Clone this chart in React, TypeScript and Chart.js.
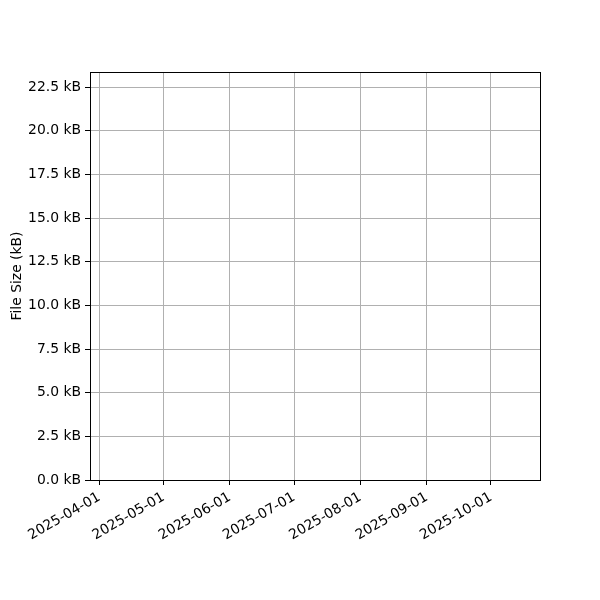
import { useEffect, useRef } from "react";
import { Chart, registerables } from "chart.js";

Chart.register(...registerables);

// x axis is in days from 2025-04-01 (no date adapter available)
const monthTicks = ["2025-04-01", "2025-05-01", "2025-06-01", "2025-07-01", "2025-08-01", "2025-09-01", "2025-10-01"];
const xRange = [-4.4, 205.9];
const yTicks = [0, 2.5, 5, 7.5, 10, 12.5, 15, 17.5, 20, 22.5];
const yRange = [0, 23.36];
// the reference plot has no visible points
const fileSizes: { x: number; y: number }[] = [];

const DAY = 86400000;
const origin = Date.parse(monthTicks[0]);
const toDay = (s: string) => (Date.parse(s) - origin) / DAY;
const dayLabel = (d: number) => new Date(origin + d * DAY).toISOString().slice(0, 10);

const FONT = { family: "'DejaVu Sans', sans-serif", size: 13.9 };

const frame = {
  id: "frame",
  afterDraw(chart: Chart) {
    const { ctx, chartArea: a } = chart;
    ctx.save();
    ctx.strokeStyle = "#000";
    ctx.lineWidth = 1;
    ctx.strokeRect(a.left + 0.5, a.top + 0.5, a.right - a.left, a.bottom - a.top);
    ctx.restore();
  },
};

export default function App() {
  const canvasRef = useRef<HTMLCanvasElement>(null);

  useEffect(() => {
    if (!canvasRef.current) return;
    const chart = new Chart(canvasRef.current, {
      type: "line",
      data: {
        datasets: [{ label: "File Size", data: fileSizes, borderColor: "#1f77b4", pointRadius: 0 }],
      },
      options: {
        responsive: false,
        animation: false,
        devicePixelRatio: 1,
        layout: { padding: { top: 72, right: 60, left: 0, bottom: 0 } },
        plugins: { legend: { display: false }, tooltip: { enabled: false } },
        scales: {
          x: {
            type: "linear",
            min: xRange[0],
            max: xRange[1],
            afterBuildTicks: (s) => {
              s.ticks = monthTicks.map((m) => ({ value: toDay(m) }));
            },
            afterFit: (s) => {
              s.height = 120;
            },
            ticks: {
              autoSkip: false,
              minRotation: 30,
              maxRotation: 30,
              color: "#000",
              font: FONT,
              padding: 4,
              callback: (v) => dayLabel(Number(v)),
            },
            grid: { color: "#b0b0b0", lineWidth: 1, tickLength: 5, tickColor: "#000" },
            border: { color: "#000" },
          },
          y: {
            min: yRange[0],
            max: yRange[1],
            afterBuildTicks: (s) => {
              s.ticks = yTicks.map((v) => ({ value: v }));
            },
            afterFit: (s) => {
              s.width = 90;
            },
            ticks: {
              color: "#000",
              font: FONT,
              padding: 4,
              callback: (v) => `${Number(v).toFixed(1)} kB`,
            },
            title: { display: true, text: "File Size (kB)", color: "#000", font: FONT, padding: { top: 9, bottom: 0 } },
            grid: { color: "#b0b0b0", lineWidth: 1, tickLength: 5, tickColor: "#000" },
            border: { color: "#000" },
          },
        },
      },
      plugins: [frame],
    });
    return () => chart.destroy();
  }, []);

  return (
    <div style={{ position: "fixed", left: 0, top: 0, width: 600, height: 600, background: "#fff" }}>
      <canvas ref={canvasRef} width={600} height={600} />
    </div>
  );
}
